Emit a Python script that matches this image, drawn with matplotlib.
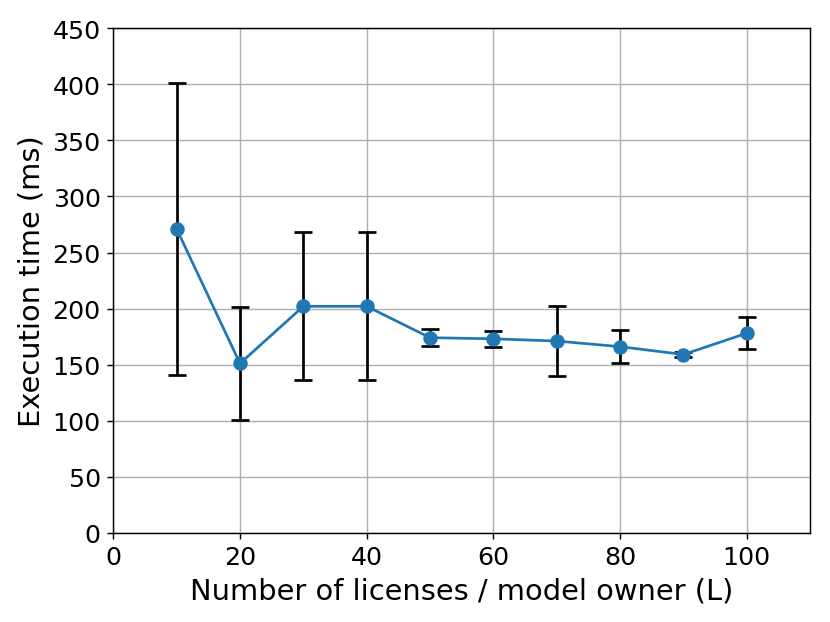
import matplotlib
matplotlib.use("Agg")
import matplotlib.pyplot as plt

licenses = [10, 20, 30, 40, 50, 60, 70, 80, 90, 100]
exec_time = [271, 151, 202, 202, 174, 173, 171, 166, 159, 178]
exec_err = [130, 50, 66, 66, 7.5, 7, 31, 15, 2, 14.5]

fig = plt.figure(figsize=(6.385, 4.792), dpi=130)
ax = fig.add_axes([0.1365, 0.1433, 0.976 - 0.1365, 0.953 - 0.1433])

ax.errorbar(licenses, exec_time, yerr=exec_err, fmt='-o', color='#1f77b4',
            ecolor='black', elinewidth=1.5, capsize=5, capthick=1.5,
            markersize=7, linewidth=1.5)

ax.set_xlim(0, 110)
ax.set_ylim(0, 450)
ax.set_xticks([0, 20, 40, 60, 80, 100])
ax.set_yticks(range(0, 451, 50))
ax.grid(True)
ax.tick_params(labelsize=14)
ax.set_xlabel("Number of licenses / model owner (L)", fontsize=16)
ax.set_ylabel("Execution time (ms)", fontsize=16)

fig.savefig("out.png", dpi=130)
